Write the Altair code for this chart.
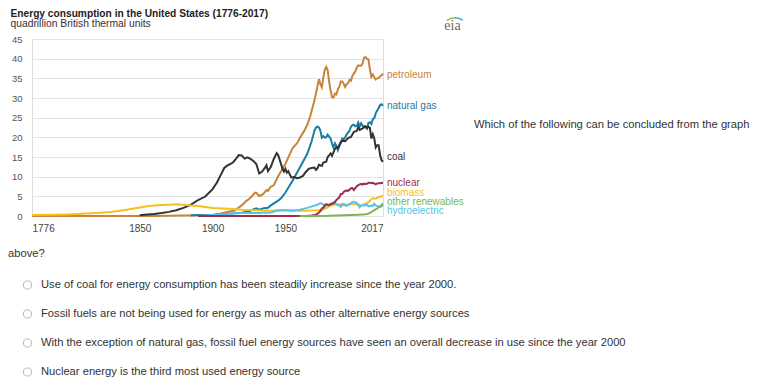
import altair as alt
import pandas as pd

# ---------------- data (quadrillion Btu) ----------------
petroleum_years = [1776, 1860, 1880, 1890, 1900, 1905, 1910, 1915, 1920, 1923, 1925, 1927, 1929, 1930, 1932, 1934,
                   1935, 1937, 1938, 1940, 1942, 1945, 1947, 1950, 1952, 1955, 1958, 1960, 1963, 1965, 1967, 1970,
                   1972, 1973, 1974, 1975, 1976, 1977, 1978, 1979, 1980, 1981, 1982, 1983, 1984, 1985, 1986, 1987,
                   1988, 1989, 1990, 1991, 1992, 1993, 1994, 1995, 1996, 1997, 1998, 1999, 2000, 2001, 2002, 2003,
                   2004, 2005, 2006, 2007, 2008, 2009, 2010, 2011, 2012, 2013, 2014, 2015, 2016, 2017]
petroleum = [0, 0, 0.1, 0.16, 0.23, 0.6, 1.0, 1.4, 2.7, 3.8, 4.3, 5.0, 5.9, 5.9, 5.1, 5.4,
             5.7, 6.6, 6.4, 7.5, 7.8, 10.1, 11.4, 13.3, 14.9, 17.3, 18.5, 19.9, 21.7, 23.2, 25.3, 29.5,
             33.0, 34.8, 33.5, 32.7, 35.2, 37.1, 37.9, 37.1, 34.2, 32.0, 30.2, 30.1, 31.1, 30.9, 32.2, 32.9,
             34.2, 34.2, 33.6, 32.8, 33.5, 33.8, 34.6, 34.4, 35.7, 36.2, 36.8, 37.8, 38.3, 38.2, 38.2, 38.8,
             40.3, 40.4, 40.0, 39.8, 37.3, 35.4, 36.0, 35.3, 34.7, 35.0, 35.1, 35.5, 35.8, 36.2]

gas_years = [1885, 1890, 1900, 1905, 1910, 1915, 1920, 1925, 1930, 1932, 1935, 1938, 1940, 1945, 1947, 1950,
             1955, 1960, 1965, 1968, 1970, 1971, 1972, 1973, 1974, 1975, 1976, 1977, 1978, 1979, 1980, 1981,
             1982, 1983, 1984, 1985, 1986, 1987, 1988, 1989, 1990, 1991, 1992, 1993, 1994, 1995, 1996, 1997,
             1998, 1999, 2000, 2001, 2002, 2003, 2004, 2005, 2006, 2007, 2008, 2009, 2010, 2011, 2012, 2013,
             2014, 2015, 2016, 2017]
natural_gas = [0.1, 0.26, 0.25, 0.37, 0.54, 0.67, 0.82, 1.2, 1.97, 1.6, 1.97, 2.1, 2.7, 3.9, 4.5, 5.97,
               9.0, 12.4, 15.8, 19.0, 21.8, 22.5, 22.7, 22.5, 21.7, 19.9, 20.3, 19.9, 20.0, 20.7, 20.2, 19.7,
               18.4, 17.4, 18.5, 17.8, 16.7, 17.7, 18.6, 19.7, 19.6, 20.0, 20.7, 21.2, 21.7, 22.7, 23.1, 23.2,
               22.8, 22.9, 23.8, 22.8, 23.6, 22.9, 22.9, 22.6, 22.2, 23.7, 23.8, 23.4, 24.6, 24.9, 26.1, 26.8,
               27.4, 28.2, 28.4, 28.0]

coal_years = [1850, 1855, 1860, 1865, 1870, 1875, 1880, 1885, 1890, 1895, 1900, 1903, 1905, 1908, 1910, 1912,
              1914, 1916, 1918, 1920, 1922, 1924, 1926, 1928, 1930, 1932, 1934, 1936, 1937, 1938, 1940, 1942,
              1944, 1945, 1947, 1948, 1949, 1950, 1951, 1952, 1953, 1954, 1956, 1958, 1960, 1962, 1964, 1966,
              1968, 1970, 1971, 1972, 1973, 1975, 1976, 1978, 1979, 1980, 1981, 1982, 1984, 1985, 1986, 1988,
              1990, 1991, 1993, 1995, 1997, 1999, 2000, 2001, 2003, 2005, 2006, 2007, 2008, 2009, 2010, 2011,
              2012, 2013, 2014, 2015, 2016, 2017]
coal = [0.22, 0.4, 0.52, 0.75, 1.05, 1.45, 2.05, 2.84, 4.06, 4.95, 6.84, 8.5, 10.0, 12.2, 12.8, 13.2,
        13.6, 14.5, 15.5, 15.4, 14.6, 14.9, 14.5, 14.0, 13.2, 10.8, 11.3, 12.3, 12.9, 11.4, 12.5, 14.5,
        16.0, 15.5, 13.2, 12.0, 11.3, 12.0, 11.0, 11.4, 10.6, 9.8, 9.9, 9.6, 9.8, 10.2, 11.2, 12.0,
        12.2, 12.3, 11.7, 12.1, 13.0, 12.7, 13.6, 13.8, 15.0, 15.4, 15.9, 15.3, 17.1, 17.5, 17.3, 18.8,
        19.2, 19.0, 19.8, 20.1, 21.4, 21.6, 22.6, 21.9, 22.3, 22.8, 22.4, 22.7, 22.4, 19.7, 20.8, 19.7,
        17.4, 18.0, 18.0, 15.5, 14.2, 13.8]

biomass_years = [1776, 1790, 1800, 1810, 1820, 1830, 1840, 1850, 1855, 1860, 1865, 1870, 1875, 1880, 1885, 1890,
                 1895, 1900, 1905, 1910, 1915, 1920, 1925, 1930, 1935, 1940, 1945, 1950, 1955, 1960, 1965, 1970,
                 1975, 1978, 1980, 1983, 1985, 1987, 1989, 1990, 1993, 1995, 1997, 2000, 2001, 2002, 2004, 2005,
                 2007, 2008, 2010, 2012, 2014, 2015, 2016, 2017]
biomass = [0.25, 0.3, 0.4, 0.55, 0.75, 1.0, 1.5, 2.14, 2.45, 2.64, 2.78, 2.89, 2.97, 2.85, 2.68, 2.52,
           2.31, 2.02, 1.95, 1.86, 1.77, 1.61, 1.54, 1.45, 1.42, 1.36, 1.46, 1.56, 1.42, 1.32, 1.33, 1.43,
           1.5, 2.0, 2.47, 2.9, 3.0, 2.9, 3.1, 2.7, 2.8, 3.1, 3.0, 3.0, 2.6, 2.7, 3.0, 3.1,
           3.5, 3.85, 4.5, 4.4, 4.8, 4.9, 5.0, 5.1]

hydro_years = [1890, 1900, 1910, 1920, 1930, 1940, 1945, 1950, 1955, 1960, 1965, 1970, 1972, 1974, 1975, 1976,
               1977, 1978, 1980, 1982, 1983, 1984, 1985, 1987, 1988, 1989, 1990, 1992, 1993, 1995, 1996, 1997,
               1999, 2000, 2001, 2002, 2004, 2006, 2007, 2009, 2010, 2011, 2012, 2014, 2015, 2016, 2017]
hydroelectric = [0.02, 0.25, 0.54, 0.74, 0.75, 0.88, 1.44, 1.4, 1.36, 1.6, 2.06, 2.63, 2.86, 3.3, 3.15, 2.98,
                 2.33, 2.94, 2.9, 3.27, 3.53, 3.39, 2.97, 2.63, 2.33, 2.84, 3.05, 2.62, 2.89, 3.2, 3.59, 3.64,
                 3.27, 2.81, 2.24, 2.69, 2.69, 2.87, 2.45, 2.67, 2.54, 3.1, 2.63, 2.47, 2.32, 2.47, 2.77]

nuclear_years = [1890, 1957, 1965, 1968, 1970, 1971, 1972, 1973, 1974, 1975, 1976, 1977, 1978, 1979, 1980, 1981,
                 1982, 1983, 1984, 1985, 1986, 1987, 1988, 1989, 1990, 1991, 1992, 1993, 1994, 1995, 1996, 1997,
                 1998, 1999, 2000, 2001, 2002, 2003, 2004, 2005, 2006, 2007, 2008, 2009, 2010, 2011, 2012, 2013,
                 2014, 2015, 2016, 2017]
nuclear = [0, 0, 0.04, 0.14, 0.24, 0.4, 0.58, 0.91, 1.27, 1.9, 2.1, 2.7, 3.0, 2.78, 2.74, 3.0,
           3.13, 3.2, 3.55, 4.08, 4.38, 4.75, 5.59, 5.6, 6.1, 6.4, 6.5, 6.4, 6.7, 7.08, 7.09, 6.6,
           7.07, 7.6, 7.86, 8.03, 8.15, 7.96, 8.22, 8.16, 8.21, 8.46, 8.43, 8.36, 8.43, 8.27, 8.06, 8.27,
           8.34, 8.34, 8.43, 8.42]

other_years = [1960, 1970, 1980, 1990, 2000, 2003, 2005, 2007, 2008, 2009, 2010, 2011, 2012, 2013, 2014, 2015,
               2016, 2017]
other_renewables = [0, 0.01, 0.05, 0.2, 0.3, 0.35, 0.45, 0.6, 0.8, 1.0, 1.2, 1.5, 1.7, 1.9, 2.2, 2.4,
                    2.8, 3.2]

# end-of-line labels (value where each label sits)
label_names = ["petroleum", "natural gas", "coal", "nuclear", "biomass", "other renewables", "hydroelectric"]
label_values = [35.8, 27.9, 15.0, 8.5, 5.9, 3.5, 1.2]
label_year = 2017

x_ticks = [1776, 1850, 1900, 1950, 2017]
y_ticks = [0, 5, 10, 15, 20, 25, 30, 35, 40, 45]

chart_title = "Energy consumption in the United States (1776-2017)"
chart_subtitle = "quadrillion British thermal units"
question_line1 = "Which of the following can be concluded from the graph"
question_line2 = "above?"
options = [
    "Use of coal for energy consumption has been steadily increase since the year 2000.",
    "Fossil fuels are not being used for energy as much as other alternative energy sources",
    "With the exception of natural gas, fossil fuel energy sources have seen an overall decrease in use since the year 2000",
    "Nuclear energy is the third most used energy source",
]

# ---------------- styling ----------------
FONT = "Liberation Sans"
colors = {
    "petroleum": "#c8843a",
    "natural gas": "#1b7ca4",
    "coal": "#333333",
    "nuclear": "#9e3049",
    "biomass": "#f4c21c",
    "other renewables": "#7ab651",
    "hydroelectric": "#55c4ea",
}

series = [
    ("petroleum", petroleum_years, petroleum),
    ("natural gas", gas_years, natural_gas),
    ("coal", coal_years, coal),
    ("biomass", biomass_years, biomass),
    ("hydroelectric", hydro_years, hydroelectric),
    ("nuclear", nuclear_years, nuclear),
    ("other renewables", other_years, other_renewables),
]

rows = []
for name, yrs, vals in series:
    for yr, v in zip(yrs, vals):
        rows.append({"source": name, "year": yr, "value": v})
df = pd.DataFrame(rows)

x_scale = alt.Scale(domain=[1776, 2017], nice=False, zero=False)
y_scale = alt.Scale(domain=[0, 45], nice=False)

x_axis = alt.Axis(values=x_ticks, format="d", grid=False, ticks=False, domain=False,
                  labelFlush=True, labelPadding=7, labelFont=FONT, labelFontSize=10,
                  labelColor="#444444", labelOverlap=False)
y_axis = alt.Axis(values=y_ticks, grid=True, gridColor="#e3e3e3", gridWidth=1, ticks=False,
                  domain=False, labelPadding=10, labelFont=FONT, labelFontSize=9.5,
                  labelColor="#555555", labelOverlap=False)

x_enc = alt.X("year:Q", scale=x_scale, title=None, axis=x_axis)
y_enc = alt.Y("value:Q", scale=y_scale, title=None, axis=y_axis)

layers = []
for name, _, _ in series:
    layers.append(
        alt.Chart(df).transform_filter(alt.datum.source == name)
        .mark_line(strokeWidth=2, color=colors[name])
        .encode(x=x_enc, y=y_enc)
    )

lab_df = pd.DataFrame({"source": label_names, "value": label_values, "year": [label_year] * len(label_names)})
labels = alt.Chart(lab_df).mark_text(align="left", baseline="middle", dx=4, font=FONT, fontSize=10).encode(
    x=x_enc,
    y=y_enc,
    text="source:N",
    color=alt.Color("source:N", scale=alt.Scale(domain=list(colors.keys()), range=list(colors.values())),
                    legend=None),
)
layers.append(labels)

one = pd.DataFrame({"k": [0]})


def txt(s, x, y, **kw):
    props = dict(align="left", baseline="alphabetic", font=FONT, fontSize=11, color="#333333")
    props.update(kw)
    return alt.Chart(one).mark_text(text=s, **props).encode(x=alt.value(x), y=alt.value(y))


# titles (plot origin is at page (32, 39))
layers.append(txt(chart_title, -21.5, -22.5, fontWeight="bold", fontSize=10.2, color="#222222"))
layers.append(txt(chart_subtitle, -21.5, -12.3, fontSize=10.3, color="#333333"))

# eia logo
layers.append(txt("eia", 420.5, -9.5, align="center", font="Liberation Serif", fontSize=14, color="#6b6b6b"))
layers.append(alt.Chart(one).mark_arc(radius=14, radius2=12.5, theta=5.6, theta2=6.28, color="#8cc63f")
              .encode(x=alt.value(423), y=alt.value(-8)))
layers.append(alt.Chart(one).mark_arc(radius=14, radius2=12.5, theta=6.28, theta2=6.9, color="#2aa7d8")
              .encode(x=alt.value(423), y=alt.value(-8)))

# question text
layers.append(txt(question_line1, 442, 86, baseline="middle", fontSize=11.2))
layers.append(txt(question_line2, -24, 215, baseline="middle", fontSize=11.2))

option_y = [246, 275, 304, 333]
for s, yy in zip(options, option_y):
    layers.append(alt.Chart(one).mark_point(shape="circle", filled=False, size=66, stroke="#9a9a9a",
                                            strokeWidth=1).encode(x=alt.value(-4.5), y=alt.value(yy)))
    layers.append(txt(s, 9, yy, baseline="middle", fontSize=11.2))

chart = alt.layer(*layers).properties(
    width=351,
    height=177,
    autosize=alt.AutoSizeParams(type="none"),
    padding={"left": 24, "top": 31, "right": 378, "bottom": 161},
).configure_view(stroke=None).configure(background="white")

chart.save("out.html", embed_options={"renderer": "svg", "actions": False})
